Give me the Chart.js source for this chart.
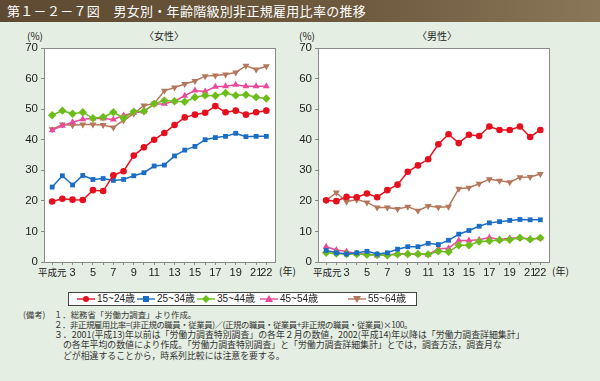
<!DOCTYPE html>
<html>
<head>
<meta charset="utf-8">
<script src="https://cdn.jsdelivr.net/npm/chart.js@4.4.0/dist/chart.umd.min.js"></script>
<style>
  body{margin:0;width:600px;height:381px;background:#e5eee2;font-family:"Liberation Sans","Noto Sans CJK JP",sans-serif;position:relative;overflow:hidden;color:#222;}
  .title{position:absolute;left:0;top:0;width:600px;height:22px;background:linear-gradient(to right,#5e4a32 0%,#6e5a3e 60%,#8a7658 100%);color:#fff;font-family:"Noto Sans CJK JP",sans-serif;font-size:13px;line-height:22px;padding-left:7px;box-sizing:border-box;letter-spacing:0.3px;}
  .lbl{position:absolute;font-size:10px;font-family:"Noto Sans CJK JP",sans-serif;line-height:12px;white-space:nowrap;}
  .cw{position:absolute;}
  .legend{position:absolute;left:68px;top:292px;width:349px;height:14px;background:#fff;border:1px solid #444;box-sizing:border-box;font-size:10px;}
  .li{position:absolute;top:0;height:12px;line-height:12px;white-space:nowrap;}
  .li svg{position:absolute;left:0;top:0;}
  .li span{position:absolute;left:20px;top:0;}
  .notes{position:absolute;left:0;top:309px;font-family:"Noto Sans CJK JP",sans-serif;font-size:8.4px;line-height:10.4px;color:#333;}
  .notes div{position:absolute;white-space:nowrap;}
  .notes .w{font-size:8.9px;}
</style>
</head>
<body>
<div class="title">第１－２－７図　男女別・年齢階級別非正規雇用比率の推移</div>

<div class="lbl" style="left:27px;top:30px;">(%)</div>
<div class="lbl" style="left:144px;top:30px;">〈女性〉</div>
<div class="lbl" style="left:299px;top:30px;">(%)</div>
<div class="lbl" style="left:417px;top:30px;">〈男性〉</div>
<div class="lbl" style="left:38px;top:266px;font-size:9.5px;">平成元</div>
<div class="lbl" style="left:313px;top:266px;font-size:9.5px;">平成元</div>
<div class="lbl" style="left:279px;top:265px;">(年)</div>
<div class="lbl" style="left:552px;top:265px;">(年)</div>

<div class="cw" style="left:0;top:30px;width:295px;height:250px;"><canvas id="female"></canvas></div>
<div class="cw" style="left:290px;top:30px;width:280px;height:250px;"><canvas id="male"></canvas></div>

<div class="legend" id="legend"></div>

<div class="notes">
  <div style="left:23px;top:0;">(備考)</div>
  <div style="left:54px;top:0;">１．総務省「労働力調査」より作成。</div>
  <div style="left:54px;top:10.4px;letter-spacing:-0.4px;">２．非正規雇用比率=(非正規の職員・従業員)／(正規の職員・従業員+非正規の職員・従業員)×100。</div>
  <div class="w" style="left:54px;top:20.8px;">３．2001(平成13)年以前は「労働力調査特別調査」の各年２月の数値，2002(平成14)年以降は「労働力調査詳細集計」</div>
  <div class="w" style="left:63px;top:31.2px;">の各年平均の数値により作成。「労働力調査特別調査」と「労働力調査詳細集計」とでは，調査方法，調査月な</div>
  <div class="w" style="left:63px;top:41.6px;">どが相違することから，時系列比較には注意を要する。</div>
</div>

<script>
// 平成元年〜22年
const years=[1,2,3,4,5,6,7,8,9,10,11,12,13,14,15,16,17,18,19,20,21,22];
const ageGroups=['15~24歳','25~34歳','35~44歳','45~54歳','55~64歳'];

// 女性
const female15=[19.8,20.7,20.4,20.3,23.5,23.2,28.4,29.7,34.8,37.5,40.0,42.2,44.8,47.3,48.2,48.8,51.0,49.0,49.5,48.2,49.0,49.5];
const female25=[24.5,28.2,25.2,28.3,27.0,27.3,26.7,27.0,28.2,29.2,31.4,31.7,34.7,36.6,37.8,40.0,40.7,41.1,42.1,41.0,41.1,41.1];
const female35=[48.0,49.5,48.5,49.0,47.0,47.4,49.0,47.1,49.2,49.3,51.8,52.8,52.6,52.4,53.9,54.5,54.4,55.3,54.5,54.7,53.9,53.5];
const female45=[43.1,44.6,45.7,46.7,46.9,46.9,46.6,47.9,48.8,49.2,51.6,51.8,52.6,54.4,56.1,55.8,57.3,57.5,58.0,57.5,57.5,57.5];
const female55=[43.4,45.0,44.7,45.0,45.0,44.8,44.0,46.3,48.5,51.2,51.8,56.0,57.1,58.2,59.2,60.8,61.0,61.3,62.0,64.2,63.0,64.0];

// 男性
const male15=[20.2,19.9,21.3,21.2,22.4,21.2,23.5,25.3,29.5,31.6,33.6,38.5,41.8,38.9,41.6,41.2,44.3,43.2,43.2,44.3,40.9,43.2];
const male25=[3.8,3.0,2.6,3.0,3.5,2.6,3.0,4.2,5.0,5.0,6.1,5.7,7.1,9.1,10.3,11.7,12.8,13.2,13.6,13.9,13.8,13.8];
const male35=[3.0,2.8,2.6,2.6,2.4,2.3,2.2,2.5,2.6,2.6,2.5,3.5,3.3,5.5,5.5,6.7,6.9,7.2,7.3,7.9,7.4,7.9];
const male45=[5.0,3.9,3.4,2.7,2.6,2.1,2.4,2.6,2.6,2.6,2.4,4.3,4.5,7.0,7.0,7.3,8.0,7.4,7.8,7.9,7.5,7.8];
const male55=[20.2,22.7,19.7,20.4,19.5,17.8,17.8,17.3,18.1,16.8,18.3,17.9,18.1,24.0,24.3,25.6,27.1,26.6,26.1,27.7,27.8,28.8];

const colors=['#e60f1e','#1a6cc4','#6cbd1c','#ea4a9c','#b5775b'];
const styles=[
  {pointStyle:'circle',pointRadius:3.3,rotation:0},
  {pointStyle:'rect',pointRadius:3.4,rotation:0},
  {pointStyle:'rectRot',pointRadius:4.2,rotation:0},
  {pointStyle:'triangle',pointRadius:4,rotation:0},
  {pointStyle:'triangle',pointRadius:4,rotation:180}
];

function makeSets(series){
  return series.map((d,i)=>({
    label:ageGroups[i],
    data:d,
    borderColor:colors[i],
    backgroundColor:colors[i],
    pointBackgroundColor:colors[i],
    pointBorderColor:colors[i],
    pointBorderWidth:0,
    borderWidth:1.5,
    tension:0,
    pointStyle:styles[i].pointStyle,
    pointRadius:styles[i].pointRadius,
    rotation:styles[i].rotation
  }));
}

// 白い描画領域と枠線
const frame={
  id:'frame',
  beforeDraw(chart){
    const a=chart.chartArea, ctx=chart.ctx;
    ctx.save();
    ctx.fillStyle='#fff';
    ctx.fillRect(a.left,a.top,a.right-a.left,a.bottom-a.top);
    ctx.restore();
  },
  afterDatasetsDraw(chart){
    const a=chart.chartArea, ctx=chart.ctx;
    ctx.save();
    ctx.strokeStyle='#8a8a8a';
    ctx.lineWidth=1;
    ctx.strokeRect(Math.round(a.left)+0.5,Math.round(a.top)+0.5,Math.round(a.right-a.left),Math.round(a.bottom-a.top));
    ctx.restore();
  }
};

function makeChart(id,series,yWidth,padRight){
  return new Chart(document.getElementById(id),{
    type:'line',
    data:{labels:years,datasets:makeSets(series)},
    options:{
      responsive:true,
      maintainAspectRatio:false,
      animation:false,
      layout:{padding:{top:18,right:padRight,bottom:0,left:0}},
      plugins:{legend:{display:false},tooltip:{enabled:false}},
      scales:{
        x:{
          type:'linear',min:0.2,max:22.85,
          afterBuildTicks:s=>{s.ticks=years.map(v=>({value:v}));},
          afterFit:s=>{s.height=18;},
          border:{display:false},
          grid:{drawOnChartArea:false,drawTicks:true,tickLength:3,color:'#8a8a8a'},
          ticks:{
            autoSkip:false,maxRotation:0,padding:1,color:'#222',
            font:{family:'"Liberation Sans",sans-serif',size:11},
            // 平成元はHTMLで表示
            callback:v=>(v>1&&(v%2===1||v===22))?String(v):''
          }
        },
        y:{
          min:0,max:70,
          afterFit:s=>{s.width=yWidth;},
          border:{display:false},
          grid:{drawOnChartArea:false,drawTicks:true,tickLength:3,color:'#8a8a8a'},
          ticks:{stepSize:10,padding:3,color:'#222',font:{family:'"Liberation Sans",sans-serif',size:11.5}}
        }
      }
    },
    plugins:[frame]
  });
}

makeChart('female',[female15,female25,female35,female45,female55],44,20);
makeChart('male',[male15,male25,male35,male45,male55],28,21);

// 凡例
const legendX=[8,68,128,191,279];
const shapes=[
  c=>`<circle cx="9" cy="6" r="3" fill="${c}"/>`,
  c=>`<rect x="6" y="3" width="6" height="6" fill="${c}"/>`,
  c=>`<polygon points="9,2 13,6 9,10 5,6" fill="${c}"/>`,
  c=>`<polygon points="9,2 13,9 5,9" fill="${c}"/>`,
  c=>`<polygon points="5,3 13,3 9,10" fill="${c}"/>`
];
const lg=document.getElementById('legend');
ageGroups.forEach((g,i)=>{
  const d=document.createElement('div');
  d.className='li';
  d.style.left=legendX[i]+'px';
  d.innerHTML=`<svg width="18" height="12"><line x1="0" y1="6" x2="18" y2="6" stroke="${colors[i]}" stroke-width="1.4"/>${shapes[i](colors[i])}</svg><span>${g}</span>`;
  lg.appendChild(d);
});
</script>
</body>
</html>
